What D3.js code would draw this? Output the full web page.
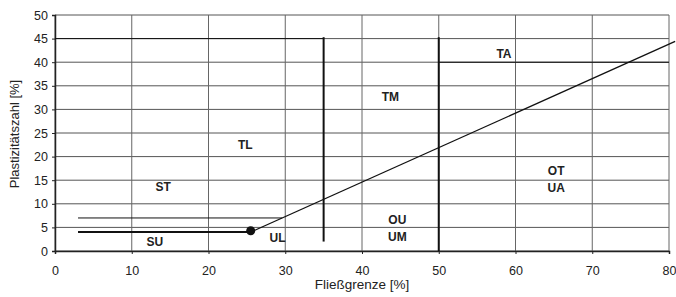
<!DOCTYPE html>
<html>
<head>
<meta charset="utf-8">
<script src="https://cdn.jsdelivr.net/npm/d3@7"></script>
<style>
  body { margin: 0; background: #fff; }
  text { font-family: "Liberation Sans", Arial, sans-serif; fill: #222; }
  .zone { font-weight: bold; font-size: 12px; }
</style>
</head>
<body>
<div id="chart"></div>
<script>
// Axis ticks
var xTicks = [0, 10, 20, 30, 40, 50, 60, 70, 80];
var yTicks = [0, 5, 10, 15, 20, 25, 30, 35, 40, 45, 50];

// A-line (Ip = 0.73 * (wL - 20)), drawn from the dot to the right edge
var aLine = [[25.5, 4], [80.8, 44.4]];
// boundary lines [x1, y1, x2, y2, width]
var boundaries = [
  [35, 2, 35, 45.3, 2],
  [50, 0, 50, 45.3, 2],
  [3, 7, 29.6, 7, 1],
  [3, 4, 25.5, 4, 2],
  [50, 40, 80, 40, 1.1],
  [0, 45, 35, 45, 1]
];
var dot = [25.5, 4.3];

// soil group labels
var zones = [
  {t: "TA", x: 58.5, y: 41.8},
  {t: "TM", x: 43.7, y: 32.6},
  {t: "TL", x: 24.8, y: 22.5},
  {t: "ST", x: 14.1, y: 13.6},
  {t: "SU", x: 13, y: 1.9},
  {t: "UL", x: 29, y: 2.7},
  {t: "OU", x: 44.6, y: 6.6},
  {t: "UM", x: 44.6, y: 3},
  {t: "OT", x: 65.3, y: 17},
  {t: "UA", x: 65.3, y: 13.3}
];

var width = 676, height = 297;
var margin = {top: 15, left: 55, right: 7, bottom: 46};

var svg = d3.select("#chart").append("svg")
  .attr("width", width)
  .attr("height", height);

var x = d3.scaleLinear().domain([0, 80]).range([margin.left, width - margin.right]);
var y = d3.scaleLinear().domain([0, 50]).range([height - margin.bottom, margin.top]);

// grid
svg.append("g").selectAll("line.h")
  .data(yTicks).enter().append("line")
  .attr("x1", x(0)).attr("x2", x(80))
  .attr("y1", function(d) { return y(d); })
  .attr("y2", function(d) { return y(d); })
  .attr("stroke", "#555").attr("stroke-width", 1);

svg.append("g").selectAll("line.v")
  .data(xTicks).enter().append("line")
  .attr("y1", y(0)).attr("y2", y(50))
  .attr("x1", function(d) { return x(d); })
  .attr("x2", function(d) { return x(d); })
  .attr("stroke", "#666").attr("stroke-width", 1);

// axes
var yAxis = d3.axisLeft(y).tickValues(yTicks).tickSize(3).tickPadding(4);
var xAxis = d3.axisBottom(x).tickValues(xTicks).tickSize(3).tickPadding(12);

var gy = svg.append("g").attr("transform", "translate(" + x(0) + ",0)").call(yAxis);
var gx = svg.append("g").attr("transform", "translate(0," + y(0) + ")").call(xAxis);
[gx, gy].forEach(function(g) {
  g.selectAll("text").style("font-size", "12.5px").style("font-family", "Liberation Sans, Arial, sans-serif").attr("fill", "#222");
  g.select(".domain").attr("stroke", "#222").attr("stroke-width", 1.5);
  g.selectAll(".tick line").attr("stroke", "#222");
});

// boundaries
svg.append("g").selectAll("line")
  .data(boundaries).enter().append("line")
  .attr("x1", function(d) { return x(d[0]); })
  .attr("y1", function(d) { return y(d[1]); })
  .attr("x2", function(d) { return x(d[2]); })
  .attr("y2", function(d) { return y(d[3]); })
  .attr("stroke", "#111")
  .attr("stroke-width", function(d) { return d[4]; });

// A-line
svg.append("path")
  .datum(aLine)
  .attr("d", d3.line().x(function(d) { return x(d[0]); }).y(function(d) { return y(d[1]); }))
  .attr("stroke", "#111").attr("stroke-width", 1.3).attr("fill", "none");

svg.append("circle")
  .attr("cx", x(dot[0])).attr("cy", y(dot[1])).attr("r", 4.5)
  .attr("fill", "#111");

// zone labels
svg.append("g").selectAll("text")
  .data(zones).enter().append("text")
  .attr("class", "zone")
  .attr("x", function(d) { return x(d.x); })
  .attr("y", function(d) { return y(d.y); })
  .attr("text-anchor", "middle")
  .attr("dy", "0.35em")
  .text(function(d) { return d.t; });

// axis titles
svg.append("text")
  .attr("x", 362).attr("y", 289)
  .attr("text-anchor", "middle")
  .style("font-size", "13.5px")
  .text("Fließgrenze [%]");

svg.append("text")
  .attr("transform", "translate(19,134) rotate(-90)")
  .attr("text-anchor", "middle")
  .style("font-size", "13px")
  .text("Plastizitätszahl [%]");
</script>
</body>
</html>
